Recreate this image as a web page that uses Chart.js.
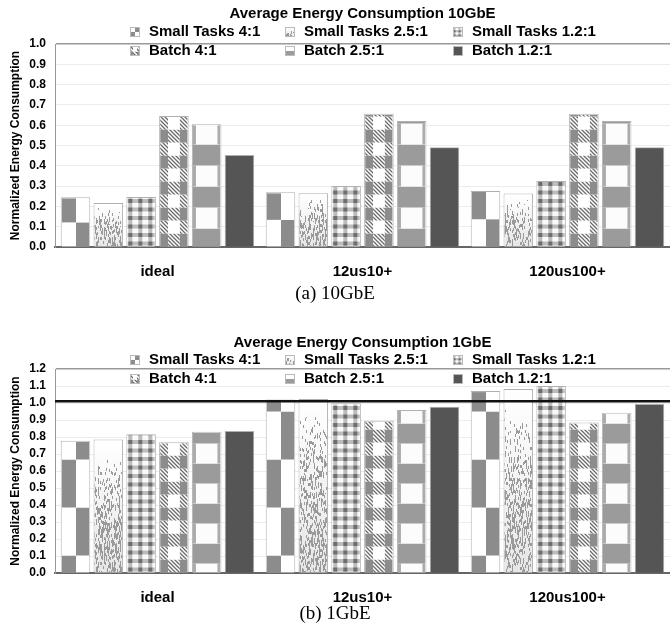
<!DOCTYPE html>
<html>
<head>
<meta charset="utf-8">
<script src="https://cdn.jsdelivr.net/npm/chart.js@4.4.1/dist/chart.umd.min.js"></script>
<style>
  body { margin: 0; background: #fff; }
  #page { position: relative; width: 670px; height: 628px; overflow: hidden; }
  canvas { position: absolute; left: 0; }
  .caption {
    position: absolute; left: 0; width: 670px; text-align: center;
    font: 19px "Liberation Serif", "Times New Roman", serif; line-height: 22px; color: #000;
  }
</style>
</head>
<body>
<div id="page">
  <canvas id="chart10g" width="670" height="283" style="top:0"></canvas>
  <div class="caption" style="top:282px">(a) 10GbE</div>
  <canvas id="chart1g" width="670" height="284" style="top:325px"></canvas>
  <div class="caption" style="top:602px">(b) 1GbE</div>
</div>
<script>
"use strict";

// --- дані ---
const categories = ['ideal', '12us10+', '120us100+'];
const seriesNames = ['Small Tasks 4:1', 'Small Tasks 2.5:1', 'Small Tasks 1.2:1',
                     'Batch 4:1', 'Batch 2.5:1', 'Batch 1.2:1'];

// 10GbE
const smallTasks41_10g  = [0.245, 0.27, 0.276];
const smallTasks25_10g  = [0.217, 0.265, 0.264];
const smallTasks12_10g  = [0.246, 0.30, 0.325];
const batch41_10g       = [0.645, 0.657, 0.657];
const batch25_10g       = [0.605, 0.621, 0.621];
const batch12_10g       = [0.453, 0.491, 0.491];

// 1GbE
const smallTasks41_1g   = [0.778, 1.02, 1.07];
const smallTasks25_1g   = [0.786, 1.024, 1.083];
const smallTasks12_1g   = [0.816, 0.998, 1.10];
const batch41_1g        = [0.769, 0.896, 0.886];
const batch25_1g        = [0.831, 0.959, 0.943];
const batch12_1g        = [0.835, 0.978, 0.994];

const yTicks10g = { max: 1.0, step: 0.1 };
const yTicks1g  = { max: 1.2, step: 0.1 };
const refLine1g = 1.01;

const FONT = '"Liberation Sans", Arial, Helvetica, sans-serif';
const GRAY = '#8c8c8c';
const patternKeys = ['st41', 'st25', 'st12', 'b41', 'b25', 'b12'];
const LEGEND_X = [130, 285, 453];

// --- візерунки для стовпців ---
function hash(i, j) {
    let n = Math.imul(i, 374761393) + Math.imul(j, 668265263);
    n = Math.imul(n ^ (n >>> 13), 1274126177);
    return ((n ^ (n >>> 16)) >>> 0) / 4294967296;
}

let hatch = null;
function hatchPattern(ctx) {
    if (!hatch) {
        const c = document.createElement('canvas');
        c.width = c.height = 4;
        const g = c.getContext('2d');
        g.fillStyle = '#fff';
        g.fillRect(0, 0, 4, 4);
        g.strokeStyle = '#6a6a6a';
        g.lineWidth = 1.3;
        g.beginPath();
        g.moveTo(-1, -1); g.lineTo(5, 5);
        g.moveTo(3, -1); g.lineTo(5, 1);
        g.moveTo(-1, 3); g.lineTo(1, 5);
        g.stroke();
        hatch = ctx.createPattern(c, 'repeat');
    }
    return hatch;
}

// смуги знизу вгору: перша висоти first, далі по h
function bands(t, b, first, h, fn) {
    let y = b, k = 0, hh = first;
    while (y > t + 0.01) {
        const y2 = Math.max(t, y - hh);
        fn(y2, y - y2, k);
        y = y2; k++; hh = h;
    }
}

const painters = {
    st41(ctx, l, t, r, b, o) {
        const mid = Math.round((l + r) / 2);
        // у 10GbE візерунок розтягнуто на 2 блоки по висоті стовпця
        const first = o.stretch ? (b - t) / o.stretch : o.first;
        const h = o.stretch ? first : o.h;
        bands(t, b, first, h, (y, hh, k) => {
            const lg = (k % 2 === 0) === o.leftGray;
            ctx.fillStyle = lg ? GRAY : '#fff';
            ctx.fillRect(l, y, mid - l, hh);
            ctx.fillStyle = lg ? '#fff' : GRAY;
            ctx.fillRect(mid, y, r - mid, hh);
        });
    },
    st25(ctx, l, t, r, b, o) {
        const h = b - t;
        const g = ctx.createLinearGradient(0, t, 0, b);
        g.addColorStop(0, '#ffffff');
        g.addColorStop(1, '#e6e6e6');
        ctx.fillStyle = g;
        ctx.fillRect(l, t, r - l, h);
        ctx.fillStyle = '#9a9a9a';
        const fade = o.legend ? 0.9 : 0.5;
        for (let x = Math.floor(l); x < r; x++) {
            const off = Math.floor(hash(x, 7) * 4);
            for (let y = Math.floor(t); y < b; y++) {
                const f = (y - t) / h;
                const p = Math.min(1, Math.max(0, (f - 0.08) / fade)) * 0.42;
                if (hash(x, Math.floor((y + off) / 3)) < p) ctx.fillRect(x, y, 1, 1);
            }
        }
    },
    st12(ctx, l, t, r, b, o) {
        const s = o.legend ? 0.5 : 1;
        const px = 10 * s, py = 8.5 * s, bw = 4 * s;
        ctx.fillStyle = '#fafafa';
        ctx.fillRect(l, t, r - l, b - t);
        ctx.fillStyle = '#bcbcbc';
        for (let x = l + s; x < r; x += px) ctx.fillRect(x, t, bw, b - t);
        for (let y = b - s; y > t; y -= py) ctx.fillRect(l, y - bw, r - l, bw);
        ctx.fillStyle = '#6e6e6e';
        for (let x = l + s; x < r; x += px)
            for (let y = b - s; y > t; y -= py) ctx.fillRect(x, y - bw, bw, bw);
    },
    b41(ctx, l, t, r, b, o) {
        const w = r - l;
        const side = Math.round(w * 0.3);
        const rowH = o.legend ? 4.5 : 13;
        bands(t, b, rowH, rowH, (y, h, k) => {
            if (k % 2 === 0) {
                ctx.fillStyle = GRAY;
                ctx.fillRect(l, y, side, h);
                ctx.fillRect(r - side, y, side, h);
                ctx.fillStyle = hatchPattern(ctx);
                ctx.fillRect(l + side, y, w - 2 * side, h);
            } else {
                ctx.fillStyle = hatchPattern(ctx);
                ctx.fillRect(l, y, side, h);
                ctx.fillRect(r - side, y, side, h);
                ctx.fillStyle = '#fff';
                ctx.fillRect(l + side, y, w - 2 * side, h);
            }
        });
    },
    b25(ctx, l, t, r, b, o) {
        const st = o.b25;
        bands(t, b, st.first, st.h, (y, h, k) => {
            if ((k % 2 === 0) === st.startGray) {
                ctx.fillStyle = '#9b9b9b';
                ctx.fillRect(l, y, r - l, h);
            } else {
                ctx.fillStyle = '#fcfcfc';
                ctx.fillRect(l, y, r - l, h);
                if (!o.legend) {
                    ctx.fillStyle = '#ababab';
                    ctx.fillRect(l, y, 3, h);
                    ctx.fillRect(r - 3, y, 3, h);
                }
            }
        });
    },
    b12(ctx, l, t, r, b) {
        ctx.fillStyle = '#555';
        ctx.fillRect(l, t, r - l, b - t);
    }
};

const patternPlugin = {
    id: 'patternFill',
    afterDatasetDraw(chart, args, opts) {
        const ds = chart.data.datasets[args.index];
        const paint = painters[ds.pattern];
        const ctx = chart.ctx;
        args.meta.data.forEach(el => {
            const { x, y, base, width } = el.getProps(['x', 'y', 'base', 'width'], true);
            const bw = ds.borderWidth;
            const l = x - width / 2 + bw, r = x + width / 2 - bw, t = y + bw;
            ctx.save();
            ctx.beginPath();
            ctx.rect(l, t, r - l, base - t);
            ctx.clip();
            paint(ctx, l, t, r, base, opts);
            ctx.restore();
        });
    }
};

const refLinePlugin = {
    id: 'refLine',
    afterDatasetsDraw(chart, args, opts) {
        if (opts.value == null) return;
        const { ctx, chartArea } = chart;
        const y = chart.scales.y.getPixelForValue(opts.value);
        ctx.save();
        ctx.strokeStyle = '#111';
        ctx.lineWidth = 2.5;
        ctx.beginPath();
        ctx.moveTo(chartArea.left, y);
        ctx.lineTo(chartArea.right, y);
        ctx.stroke();
        ctx.restore();
    }
};

// заголовок і легенда (3 колонки x 2 ряди)
const headerPlugin = {
    id: 'header',
    afterDraw(chart, args, opts) {
        const { ctx, chartArea } = chart;
        ctx.save();
        ctx.fillStyle = '#000';
        ctx.textBaseline = 'middle';
        ctx.textAlign = 'center';
        ctx.font = 'bold 15px ' + FONT;
        ctx.fillText(opts.text, (chartArea.left + chartArea.right) / 2, opts.titleY);
        ctx.textAlign = 'left';
        chart.data.datasets.forEach((ds, i) => {
            const col = i % 3, row = Math.floor(i / 3);
            const y = row ? opts.row2Y : opts.row1Y;
            const mx = LEGEND_X[col];
            const l = mx, t = Math.round(y - 5), r = mx + 10, b = t + 10;
            ctx.save();
            ctx.beginPath();
            ctx.rect(l, t, 10, 10);
            ctx.clip();
            const o = {
                legend: true, first: 5, h: 5, leftGray: true,
                b25: { first: 5, h: 5, startGray: true }
            };
            painters[ds.pattern](ctx, l, t, r, b, o);
            ctx.restore();
            ctx.strokeStyle = '#bbb';
            ctx.lineWidth = 1;
            ctx.strokeRect(l + 0.5, t + 0.5, 9, 9);
            ctx.fillStyle = '#000';
            ctx.fillText(ds.label, mx + 19, y);
        });
        ctx.restore();
    }
};

function makeDatasets(values) {
    return seriesNames.map((name, i) => ({
        label: name,
        data: values[i],
        pattern: patternKeys[i],
        backgroundColor: i === 5 ? '#555' : '#fff',
        borderColor: '#b0b0b0',
        borderWidth: 1,
        categoryPercentage: 0.96,
        barPercentage: 0.9
    }));
}

function makeChart(id, values, yTicks, header, pattern, refValue) {
    return new Chart(document.getElementById(id), {
        type: 'bar',
        data: { labels: categories, datasets: makeDatasets(values) },
        options: {
            responsive: false,
            animation: false,
            devicePixelRatio: 1,
            layout: { padding: { top: 44, left: 0, right: 0, bottom: 0 } },
            scales: {
                x: {
                    grid: { display: false },
                    border: { color: '#666', width: 2 },
                    ticks: { color: '#000', padding: 8, font: { family: FONT, size: 15, weight: 'bold' } },
                    afterFit: s => { s.height = 36; }
                },
                y: {
                    min: 0,
                    max: yTicks.max,
                    ticks: {
                        stepSize: yTicks.step,
                        autoSkip: false,
                        color: '#000',
                        padding: 9,
                        font: { family: FONT, size: 12, weight: 'bold' },
                        callback: v => v.toFixed(1)
                    },
                    grid: {
                        drawTicks: false,
                        color: c => Math.abs(c.tick.value - yTicks.max) < 1e-6 ? '#999' : '#ececec',
                        lineWidth: c => Math.abs(c.tick.value - yTicks.max) < 1e-6 ? 1.5 : 1
                    },
                    border: { color: '#999', width: 1 },
                    title: {
                        display: true,
                        text: 'Normalized Energy Consumption',
                        color: '#000',
                        padding: { top: 8, bottom: 0 },
                        font: { family: FONT, size: 12, weight: 'bold' }
                    },
                    afterFit: s => { s.width = 55; }
                }
            },
            plugins: {
                legend: { display: false },
                title: { display: false },
                tooltip: { enabled: false },
                header: header,
                patternFill: pattern,
                refLine: { value: refValue }
            }
        },
        plugins: [patternPlugin, refLinePlugin, headerPlugin]
    });
}

makeChart('chart10g',
    [smallTasks41_10g, smallTasks25_10g, smallTasks12_10g, batch41_10g, batch25_10g, batch12_10g],
    yTicks10g,
    { text: 'Average Energy Consumption 10GbE', titleY: 14, row1Y: 32, row2Y: 51 },
    { stretch: 2, leftGray: false, b25: { first: 18, h: 21, startGray: true } },
    null);

makeChart('chart1g',
    [smallTasks41_1g, smallTasks25_1g, smallTasks12_1g, batch41_1g, batch25_1g, batch12_1g],
    yTicks1g,
    { text: 'Average Energy Consumption 1GbE', titleY: 18, row1Y: 35, row2Y: 54 },
    { first: 17, h: 48, leftGray: true, b25: { first: 9, h: 20, startGray: false } },
    refLine1g);
</script>
</body>
</html>
